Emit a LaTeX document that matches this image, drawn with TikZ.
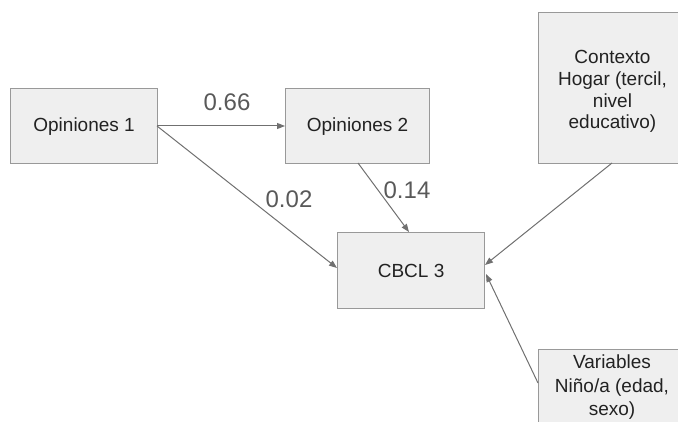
\documentclass[tikz,border=0pt]{standalone}
\usepackage{fontspec}
\setmainfont{Liberation Sans}
\usetikzlibrary{arrows.meta}
\definecolor{boxfill}{HTML}{EFEFEF}
\definecolor{boxline}{HTML}{999999}
\definecolor{arrline}{HTML}{707070}
\definecolor{txt}{HTML}{222222}
\definecolor{lbl}{HTML}{595959}
\begin{document}
\begin{tikzpicture}[x=1pt,y=-1pt,
  boxnode/.style={draw=boxline,fill=boxfill,line width=1.2pt,inner sep=0pt,
    align=center,text=txt,font=\fontsize{19}{22}\selectfont,anchor=north west},
  boxtext/.style={text=txt,align=center,anchor=north,inner sep=0pt},
  arr/.style={draw=arrline,line width=1pt,-{Triangle[length=8pt,width=6pt]}},
  lab/.style={text=lbl,font=\fontsize{24}{26}\selectfont,inner sep=0pt}]
\useasboundingbox (0,0) rectangle (678,422);
\node[boxnode,minimum width=147pt,minimum height=75pt] (o1) at (10,88) {Opiniones 1};
\node[boxnode,minimum width=144pt,minimum height=75pt] (o2) at (285,88) {Opiniones 2};
\node[boxnode,minimum width=147pt,minimum height=76pt] (c) at (337,232) {CBCL 3};
\node[boxnode,minimum width=150pt,minimum height=151pt] (h) at (538,12) {};
\node[boxtext,font=\fontsize{19}{21.8}\selectfont] (ht) at (612.5,50) {Contexto\\Hogar (tercil,\\nivel\\educativo)};
\node[boxnode,minimum width=150pt,minimum height=90pt] (v) at (538,349) {};
\node[boxtext,font=\fontsize{19}{23.5}\selectfont] (vt) at (612,355) {Variables\\Niño/a (edad,\\sexo)};
\coordinate (o1r) at (157,126);
\coordinate (o2l) at (285,126);
\coordinate (o2b) at (358,163);
\coordinate (ct) at (409,232);
\coordinate (cl) at (337,268);
\coordinate (cr1) at (485,265);
\coordinate (cr2) at (486,274);
\coordinate (hb) at (612,163);
\coordinate (vl) at (538,383);
\draw[arr] (o1r) -- (o2l);
\draw[arr] (o1r) -- (cl);
\draw[arr] (o2b) -- (ct);
\draw[arr] (hb) -- (cr1);
\draw[arr] (vl) -- (cr2);
\node[lab] (l66) at (227,102) {0.66};
\node[lab] (l02) at (289,199) {0.02};
\node[lab] (l14) at (407,190) {0.14};
\end{tikzpicture}
\end{document}
